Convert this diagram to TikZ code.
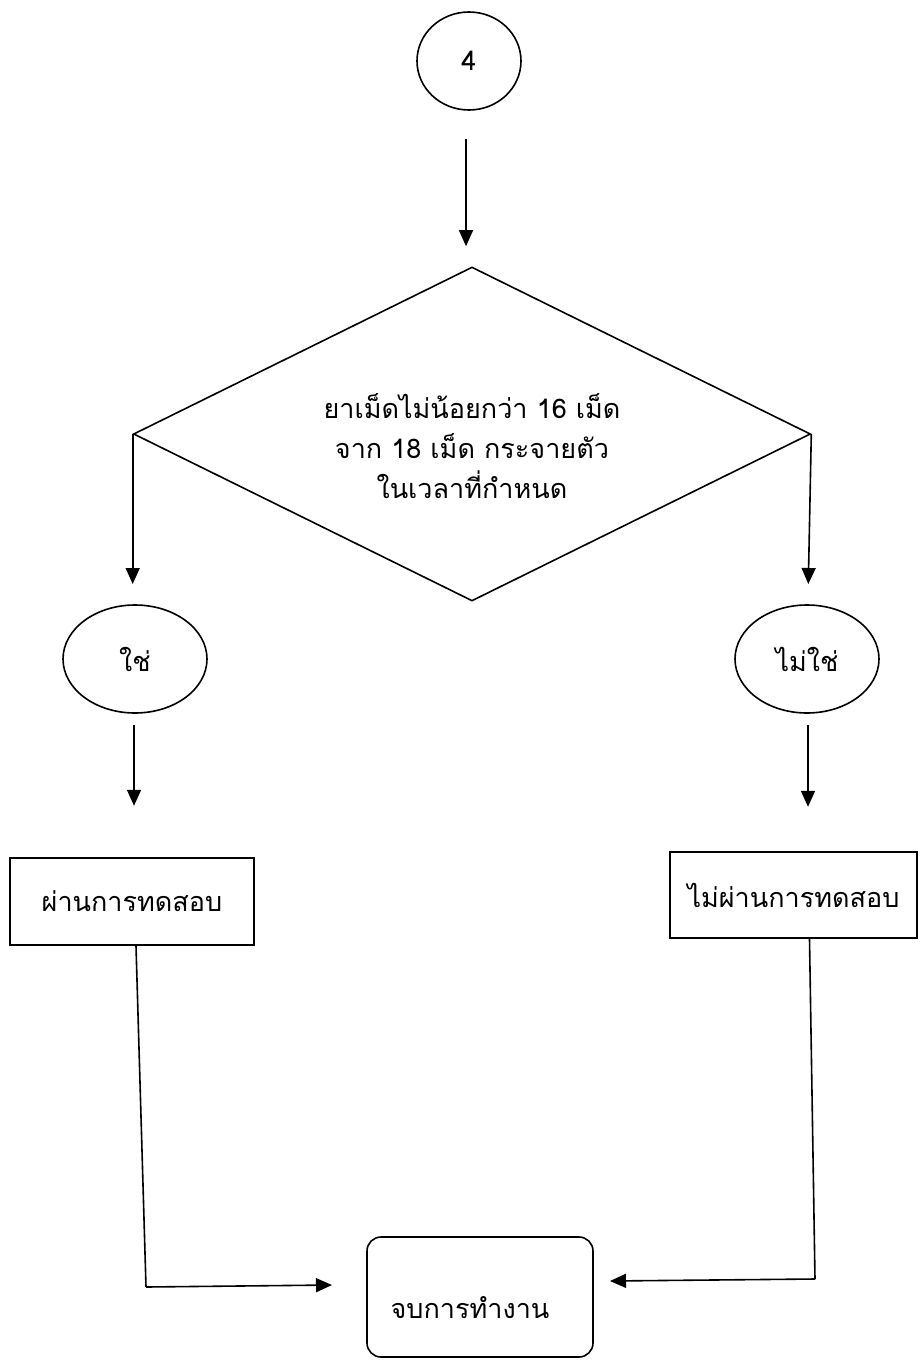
\documentclass[tikz,border=0pt]{standalone}
\usepackage{fontspec}
\newfontfamily\thai[Script=Thai]{Loma}
\usetikzlibrary{shapes.geometric,arrows.meta}
\begin{document}
\begin{tikzpicture}[x=1pt,y=-1pt,
  every node/.style={font=\thai\fontsize{27}{40}\selectfont, align=center},
  line/.style={line width=1.6pt, line join=miter},
  arr/.style={line, -{Triangle[length=16pt,width=14pt]}},
  oval/.style={draw, line width=1.6pt, ellipse, inner sep=0pt},
  box/.style={draw, line width=1.6pt, rectangle, inner sep=0pt},
  decision/.style={draw, line width=1.6pt, diamond, inner sep=0pt}]
\useasboundingbox (0,0) rectangle (920,1360);

% shapes
\node[oval, minimum width=104pt, minimum height=98pt] (c4) at (469,61) {4};
\node[decision, minimum width=677pt, minimum height=334pt] (dia) at (472,434) {};
\node (dtxt) at (472,446) {ยาเม็ดไม่น้อยกว่า 16 เม็ด\\จาก 18 เม็ด กระจายตัว\\ในเวลาที่กำหนด};
\node[oval, minimum width=144pt, minimum height=108pt] (yes) at (135,659) {ใช่};
\node[oval, minimum width=144pt, minimum height=108pt] (no) at (807,659) {ไม่ใช่};
\node[box, minimum width=244pt, minimum height=87pt] (pass) at (132,901.5) {ผ่านการทดสอบ};
\node[box, minimum width=247pt, minimum height=86pt] (fail) at (793.5,895) {ไม่ผ่านการทดสอบ};
\node[box, rounded corners=14pt, minimum width=226pt, minimum height=120pt] (end) at (480,1297) {};
\node (endtxt) at (470,1308) {จบการทำงาน};

% connector end points
\coordinate (pbend) at (146,1287);
\coordinate (ptip) at (332,1285);
\coordinate (fbend) at (815,1279);
\coordinate (ftip) at (610,1281);

% connectors
\draw[arr] ([shift={(-3,28)}]c4.south) -- ([shift={(-6,-20)}]dia.north);
\draw[arr] (dia.west) -- ++(0,150);
\draw[arr] (dia.east) -- ++(-3,150);
\draw[arr] ([shift={(-1,11)}]yes.south) -- ++(0,81);
\draw[arr] ([shift={(1,11)}]no.south) -- ++(0,82);
\draw[line] ([xshift=4]pass.south) -- (pbend);
\draw[arr] (pbend) -- (ptip);
\draw[line] ([xshift=16]fail.south) -- (fbend);
\draw[arr] (fbend) -- (ftip);
\end{tikzpicture}
\end{document}
